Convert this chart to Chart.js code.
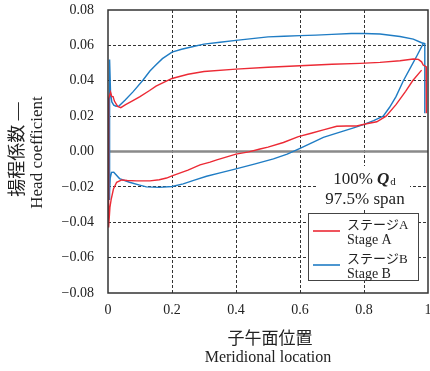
<!DOCTYPE html>
<html><head><meta charset="utf-8">
<script src="https://cdn.jsdelivr.net/npm/chart.js@4.4.0/dist/chart.umd.min.js"></script>
<style>html,body{margin:0;padding:0;background:#fff;}canvas{display:block;}</style>
</head><body>
<canvas id="c" width="430" height="371"></canvas>
<script>
// ---- data ----
const xTickValues = [0, 0.2, 0.4, 0.6, 0.8, 1];
const xTickLabels = ['0', '0.2', '0.4', '0.6', '0.8', '1'];
const yTickValues = [-0.08, -0.06, -0.04, -0.02, 0, 0.02, 0.04, 0.06, 0.08];
const yTickLabels = ['\u22120.08', '\u22120.06', '\u22120.04', '\u22120.02', '0.00', '0.02', '0.04', '0.06', '0.08'];
const seriesNamesJa = ['ステージA', 'ステージB'];
const seriesNamesEn = ['Stage A', 'Stage B'];
const xTitleJa = '子午面位置';
const xTitleEn = 'Meridional location';
const yTitleJa = '揚程係数 \u2014';
const yTitleEn = 'Head coefficient';
const noteLine1 = ['100% ', 'Q', 'd'];
const noteLine2 = '97.5% span';

// Stage A (red): lower curve right->left, leading edge, upper curve left->right, trailing edge
const stageA_x = [0.98,0.952,0.93,0.90,0.869,0.84,0.808,0.777,0.745,0.715,0.673,0.635,0.595,0.548,0.5,0.475,0.44,0.4,0.34,0.319,0.2875,0.25,0.2,0.183,0.16,0.131,0.09,0.06,0.043,0.027,0.017,0.010,0.006,0.003,0.001,
  0.002,0.003,0.008,0.012,0.016,0.02,0.03,0.04,0.055,0.075,0.1,0.13,0.15,0.2,0.25,0.3,0.4,0.5,0.6,0.7,0.7875,0.85,0.9125,0.954,0.97,0.98,0.985,0.994,0.995];
const stageA_y = [0.046,0.040,0.034,0.0265,0.020,0.0168,0.0157,0.0144,0.0144,0.0143,0.0122,0.0103,0.0084,0.0051,0.0025,0.0014,-0.0002,-0.0015,-0.0047,-0.006,-0.0076,-0.0105,-0.0138,-0.015,-0.016,-0.0166,-0.0166,-0.0164,-0.0161,-0.0174,-0.0212,-0.027,-0.0316,-0.040,-0.043,
  -0.005,0.030,0.0335,0.031,0.031,0.0285,0.0255,0.0248,0.0265,0.0285,0.031,0.0345,0.037,0.0413,0.0437,0.0452,0.0466,0.0476,0.0485,0.0493,0.0498,0.0504,0.0513,0.0523,0.0521,0.0507,0.0489,0.048,0.0216];

// Stage B (blue)
const stageB_x = [0.985,0.965,0.944,0.923,0.90,0.88,0.86,0.83,0.80,0.77,0.735,0.70,0.673,0.635,0.595,0.56,0.517,0.46,0.40,0.35,0.308,0.27,0.235,0.2,0.16,0.12,0.099,0.067,0.036,0.018,0.011,0.007,0.004,
  0.005,0.008,0.012,0.018,0.025,0.035,0.053,0.078,0.109,0.131,0.147,0.17,0.2,0.23,0.27,0.30,0.35,0.4,0.45,0.5,0.55,0.6,0.65,0.7,0.76,0.8,0.85,0.9125,0.954,0.98,0.99,0.99];
const stageB_y = [0.061,0.054,0.047,0.040,0.031,0.025,0.020,0.0175,0.0153,0.0135,0.0115,0.0095,0.008,0.0048,0.0014,-0.0015,-0.0042,-0.007,-0.0098,-0.0121,-0.0140,-0.0162,-0.0183,-0.0198,-0.0203,-0.0200,-0.0190,-0.0174,-0.0153,-0.0117,-0.0118,-0.015,-0.027,
  0.052,0.033,0.028,0.0262,0.0256,0.0258,0.029,0.0337,0.0403,0.0455,0.0485,0.0525,0.0562,0.0578,0.0595,0.0607,0.0618,0.0628,0.0638,0.0648,0.0652,0.0655,0.0658,0.0662,0.0667,0.0667,0.0664,0.065,0.0635,0.0615,0.061,0.0216];

const COLORS = ['#ec2a35', '#1f7cc4'];
const SERIF = '"Liberation Serif", "Noto Sans CJK JP", serif';
const TXT = '#222';

const toPts = (xs, ys) => xs.map((x, i) => ({x: x, y: ys[i]}));

const deco = {
  id: 'deco',
  beforeDatasetsDraw(chart) {
    const {ctx, chartArea: a, scales: {y}} = chart;
    const y0 = y.getPixelForValue(0);
    ctx.save();
    ctx.strokeStyle = '#8a8a8a';
    ctx.lineWidth = 2.5;
    ctx.beginPath(); ctx.moveTo(a.left, y0); ctx.lineTo(a.right, y0); ctx.stroke();
    ctx.restore();
  },
  afterDraw(chart) {
    const {ctx, chartArea: a} = chart;
    ctx.save();
    // annotation
    ctx.fillStyle = '#fff';
    ctx.fillRect(318, 166, 92, 43);
    ctx.fillStyle = TXT;
    ctx.textBaseline = 'alphabetic';
    ctx.textAlign = 'left';
    ctx.font = '17px ' + SERIF;
    const w1 = ctx.measureText(noteLine1[0]).width;
    ctx.font = 'italic bold 17px ' + SERIF;
    const w2 = ctx.measureText(noteLine1[1]).width;
    ctx.font = '11px ' + SERIF;
    const w3 = ctx.measureText(noteLine1[2]).width;
    let sx = 364 - (w1 + w2 + w3) / 2;
    const b1 = 184;
    ctx.font = '17px ' + SERIF; ctx.fillText(noteLine1[0], sx, b1); sx += w1;
    ctx.font = 'italic bold 17px ' + SERIF; ctx.fillText(noteLine1[1], sx, b1); sx += w2 + 1;
    ctx.font = '11px ' + SERIF; ctx.fillText(noteLine1[2], sx, b1 + 1);
    ctx.font = '17px ' + SERIF;
    ctx.textAlign = 'center';
    ctx.fillText(noteLine2, 365, 204);

    // legend
    ctx.fillStyle = '#fff';
    ctx.fillRect(308, 213, 110, 67);
    ctx.strokeStyle = '#444'; ctx.lineWidth = 1;
    ctx.strokeRect(308.5, 213.5, 110, 67);
    chart.data.datasets.forEach((ds, i) => {
      const ly = 231 + i * 34;
      ctx.strokeStyle = ds.borderColor; ctx.lineWidth = 1.6;
      ctx.beginPath(); ctx.moveTo(313, ly); ctx.lineTo(340, ly); ctx.stroke();
      ctx.fillStyle = TXT; ctx.textAlign = 'left'; ctx.textBaseline = 'middle';
      ctx.font = '13px ' + SERIF; ctx.fillText(seriesNamesJa[i], 347, ly - 5);
      ctx.font = '14px ' + SERIF; ctx.fillText(seriesNamesEn[i], 347, ly + 9);
    });

    // frame
    ctx.strokeStyle = '#333'; ctx.lineWidth = 1.5;
    ctx.strokeRect(a.left, a.top, a.right - a.left, a.bottom - a.top);

    // axis titles
    ctx.fillStyle = TXT; ctx.textAlign = 'center'; ctx.textBaseline = 'middle';
    const cx = (a.left + a.right) / 2;
    ctx.font = '17px ' + SERIF; ctx.fillText(xTitleJa, cx + 2, 340);
    ctx.font = '16px ' + SERIF; ctx.fillText(xTitleEn, cx, 358);
    const cy = (a.top + a.bottom) / 2;
    ctx.save(); ctx.translate(18, cy - 2); ctx.rotate(-Math.PI / 2);
    ctx.font = '18px ' + SERIF; ctx.fillText(yTitleJa, 0, 0); ctx.restore();
    ctx.save(); ctx.translate(38, cy + 1); ctx.rotate(-Math.PI / 2);
    ctx.font = '17px ' + SERIF; ctx.fillText(yTitleEn, 0, 0); ctx.restore();
    ctx.restore();
  }
};

const lbl = (vals, labels) => (v) => {
  const i = vals.findIndex(t => Math.abs(t - v) < 1e-9);
  return i >= 0 ? labels[i] : '';
};

new Chart(document.getElementById('c'), {
  type: 'scatter',
  data: {
    datasets: [
      {label: seriesNamesEn[0], data: toPts(stageA_x, stageA_y), borderColor: COLORS[0], backgroundColor: COLORS[0], showLine: true, borderWidth: 1.4, pointRadius: 0, tension: 0},
      {label: seriesNamesEn[1], data: toPts(stageB_x, stageB_y), borderColor: COLORS[1], backgroundColor: COLORS[1], showLine: true, borderWidth: 1.4, pointRadius: 0, tension: 0}
    ]
  },
  options: {
    responsive: false, animation: false, devicePixelRatio: 1,
    layout: {padding: {top: 10, right: 2, left: 0, bottom: 0}},
    plugins: {legend: {display: false}, tooltip: {enabled: false}},
    scales: {
      x: {
        type: 'linear', min: 0, max: 1,
        ticks: {stepSize: 0.2, padding: 9, color: TXT, font: {family: SERIF, size: 14}, callback: lbl(xTickValues, xTickLabels), maxRotation: 0},
        grid: {drawTicks: false, lineWidth: 1, color: (c) => (c.tick && (c.tick.value <= 0.001 || c.tick.value >= 0.999)) ? 'rgba(0,0,0,0)' : '#333'},
        border: {display: false, dash: [3, 2]},
        afterFit: (s) => { s.height = 78; s.paddingLeft = 0; s.paddingRight = 0; }
      },
      y: {
        type: 'linear', min: -0.08, max: 0.08,
        ticks: {stepSize: 0.02, padding: 14, color: TXT, font: {family: SERIF, size: 14}, callback: lbl(yTickValues, yTickLabels)},
        grid: {drawTicks: false, lineWidth: 1, color: (c) => (c.tick && (Math.abs(c.tick.value) < 1e-6 || Math.abs(Math.abs(c.tick.value) - 0.08) < 1e-6)) ? 'rgba(0,0,0,0)' : '#333'},
        border: {display: false, dash: [3, 2]},
        afterFit: (s) => { s.width = 108; s.paddingTop = 0; s.paddingBottom = 0; }
      }
    }
  },
  plugins: [deco]
});
</script>
</body></html>
